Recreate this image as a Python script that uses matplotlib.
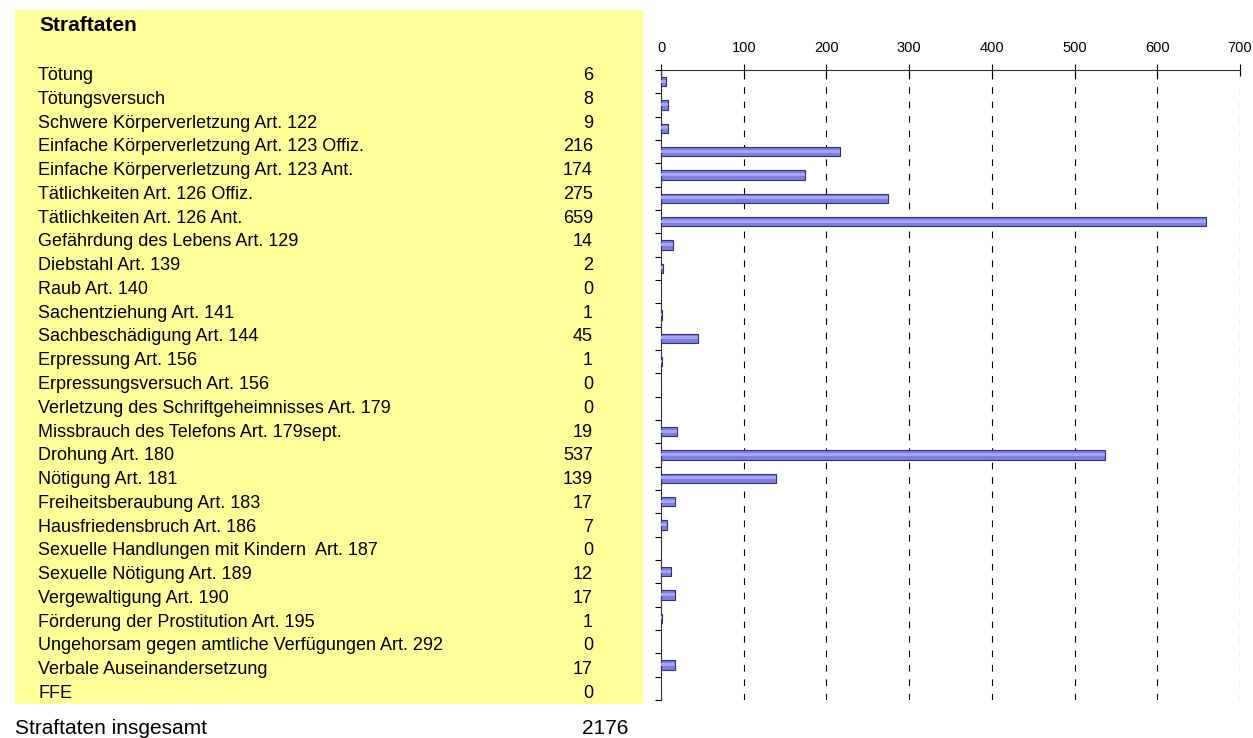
import numpy as np
import matplotlib.pyplot as plt
from matplotlib.patches import Rectangle

plt.rcParams['font.family'] = ['Liberation Sans', 'DejaVu Sans']

titel = "Straftaten"
kategorien = ["Tötung", "Tötungsversuch", "Schwere Körperverletzung Art. 122",
              "Einfache Körperverletzung Art. 123 Offiz.", "Einfache Körperverletzung Art. 123 Ant.",
              "Tätlichkeiten Art. 126 Offiz.", "Tätlichkeiten Art. 126 Ant.",
              "Gefährdung des Lebens Art. 129", "Diebstahl Art. 139", "Raub Art. 140",
              "Sachentziehung Art. 141", "Sachbeschädigung Art. 144", "Erpressung Art. 156",
              "Erpressungsversuch Art. 156", "Verletzung des Schriftgeheimnisses Art. 179",
              "Missbrauch des Telefons Art. 179sept.", "Drohung Art. 180", "Nötigung Art. 181",
              "Freiheitsberaubung Art. 183", "Hausfriedensbruch Art. 186",
              "Sexuelle Handlungen mit Kindern  Art. 187", "Sexuelle Nötigung Art. 189",
              "Vergewaltigung Art. 190", "Förderung der Prostitution Art. 195",
              "Ungehorsam gegen amtliche Verfügungen Art. 292", "Verbale Auseinandersetzung", "FFE"]
werte = [6, 8, 9, 216, 174, 275, 659, 14, 2, 0, 1, 45, 1, 0, 0, 19, 537, 139, 17, 7, 0, 12, 17, 1, 0, 17, 0]
x_ticks = [0, 100, 200, 300, 400, 500, 600, 700]

W, H = 1253, 738
fig = plt.figure(figsize=(W / 100, H / 100), dpi=100)

def fx(px):
    return px / W

def fy(py):
    return 1 - py / H

# gelber Tabellenhintergrund
fig.patches.append(Rectangle((fx(15), fy(704)), fx(643) - fx(15), fy(10) - fy(704),
                             transform=fig.transFigure, facecolor='#FFFF99', edgecolor='none', zorder=0))

fig.text(fx(39), fy(31), titel, fontsize=15, fontweight='bold', va='baseline', ha='left')
n = len(kategorien)
y0, y1 = 80, 698
for i, (k, w) in enumerate(zip(kategorien, werte)):
    y = y0 + (y1 - y0) * i / (n - 1)
    fig.text(fx(38), fy(y), k, fontsize=13, va='baseline', ha='left')
    fig.text(fx(593), fy(y), str(w), fontsize=13, va='baseline', ha='right')

fig.text(fx(15), fy(734), titel + " insgesamt", fontsize=15, va='baseline', ha='left')
fig.text(fx(628), fy(734), str(sum(werte)), fontsize=15, va='baseline', ha='right')

# Balkendiagramm
ax = fig.add_axes([fx(661), fy(700), fx(1240) - fx(661), fy(70) - fy(700)])
pos = np.arange(n)
ax.barh(pos, werte, height=0.4, color='#7E7EE6', edgecolor='#32326E', linewidth=0.8, zorder=3)
ax.barh(pos - 0.02, werte, height=0.12, color='#A4A4FF', edgecolor='none', linewidth=0, zorder=4)
ax.set_xlim(0, 700)
ax.set_ylim(n - 0.5, -0.5)
ax.set_xticks(x_ticks)
ax.xaxis.tick_top()
ax.tick_params(axis='x', direction='inout', length=8, width=0.8, labelsize=10.5, pad=7)
ax.set_yticks(np.arange(n + 1) - 0.5)
ax.set_yticklabels([])
ax.tick_params(axis='y', direction='out', length=4, width=0.8)
for t in x_ticks[1:]:
    ax.axvline(t, color='black', lw=0.8, linestyle=(0, (6, 7)), zorder=1)
for s in ['right', 'bottom']:
    ax.spines[s].set_visible(False)
for s in ['left', 'top']:
    ax.spines[s].set_linewidth(0.8)
    ax.spines[s].set_color('#333333')

fig.savefig('out.png', dpi=100)
